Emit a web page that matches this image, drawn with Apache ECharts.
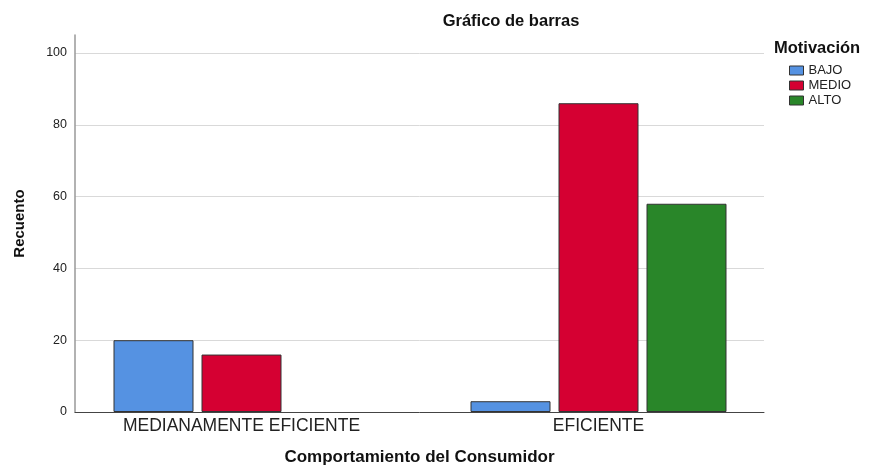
<!DOCTYPE html>
<html>
<head>
<meta charset="utf-8">
<script src="https://cdn.jsdelivr.net/npm/echarts@6/dist/echarts.min.js"></script>
<style>
  html, body { margin: 0; padding: 0; background: #fff; }
  #main { width: 874px; height: 466px; }
</style>
</head>
<body>
<div id="main"></div>
<script>
var categories = ['MEDIANAMENTE EFICIENTE', 'EFICIENTE'];
var bajo = [20, 3];
var medio = [16, 86];
var alto = [null, 58];
var seriesNames = ['BAJO', 'MEDIO', 'ALTO'];
var colors = ['#5592E2', '#D50032', '#298629'];

var font = 'Liberation Sans, Arial, sans-serif';
var myChart = echarts.init(document.getElementById('main'));

function barSeries(name, data, color) {
  return {
    name: name,
    type: 'bar',
    xAxisIndex: 1,
    yAxisIndex: 1,
    barWidth: 80,
    barGap: '10%',
    data: data,
    itemStyle: { color: color, borderColor: '#333', borderWidth: 1 }
  };
}

var option = {
  animation: false,
  backgroundColor: '#fff',
  color: colors,
  title: [{
    text: 'Gráfico de barras',
    left: 506,
    textAlign: 'center',
    top: 8,
    textStyle: { fontFamily: font, fontSize: 16.5, fontWeight: 'bold', color: '#111' }
  }, {
    text: 'Motivación',
    left: 769,
    top: 35,
    textStyle: { fontFamily: font, fontSize: 16.5, fontWeight: 'bold', color: '#111' }
  }],
  legend: {
    orient: 'vertical',
    left: 784,
    top: 59,
    itemWidth: 14,
    itemHeight: 9,
    itemGap: 2,
    icon: 'rect',
    data: seriesNames,
    itemStyle: { borderColor: '#333', borderWidth: 1 },
    textStyle: { fontFamily: font, fontSize: 13, color: '#222' }
  },
  grid: [
    { left: 75, right: 110, top: 35, bottom: 54, outerBoundsMode: 'none' },
    { left: 63, right: 97, top: 35, bottom: 54, outerBoundsMode: 'none' }
  ],
  xAxis: [{
    gridIndex: 0,
    type: 'category',
    data: categories,
    axisLine: { lineStyle: { color: '#444', width: 1 } },
    axisTick: { show: false },
    axisLabel: { show: false },
    name: 'Comportamiento del Consumidor',
    nameLocation: 'middle',
    nameGap: 37,
    nameTextStyle: { fontFamily: font, fontSize: 17, fontWeight: 'bold', color: '#111' }
  }, {
    gridIndex: 1,
    type: 'category',
    data: categories,
    axisLine: { show: false },
    axisTick: { show: false },
    axisLabel: { fontFamily: font, fontSize: 17.5, color: '#222', margin: 5 }
  }],
  yAxis: [{
    gridIndex: 0,
    type: 'value',
    min: 0,
    max: 105,
    interval: 20,
    axisLine: { show: true, lineStyle: { color: '#999', width: 1.5 } },
    axisTick: { show: false },
    axisLabel: { showMaxLabel: false, fontFamily: font, fontSize: 12.5, color: '#222', margin: 8 },
    splitLine: { showMaxLine: false, lineStyle: { color: '#d9d9d9', width: 1 } },
    name: 'Recuento',
    nameLocation: 'middle',
    nameRotate: 90,
    nameGap: 48,
    nameTextStyle: { fontFamily: font, fontSize: 15, fontWeight: 'bold', color: '#111' }
  }, {
    gridIndex: 1,
    type: 'value',
    min: 0,
    max: 105,
    show: false
  }],
  series: [
    barSeries(seriesNames[0], bajo, colors[0]),
    barSeries(seriesNames[1], medio, colors[1]),
    barSeries(seriesNames[2], alto, colors[2])
  ]
};

myChart.setOption(option);
</script>
</body>
</html>
